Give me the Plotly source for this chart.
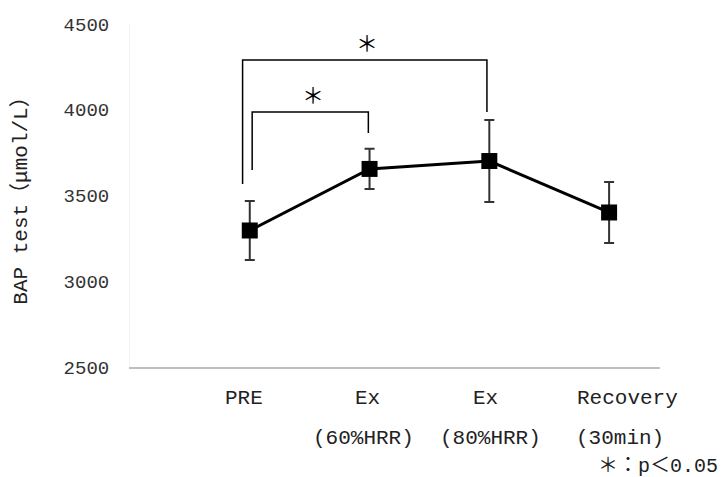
import plotly.graph_objects as go

# ---- data ----
categories = ["PRE", "Ex", "Ex", "Recovery"]
sub_labels = ["", "(60%HRR)", "(80%HRR)", "(30min)"]
means = [3296, 3655, 3701, 3401]
sds = [172, 117, 239, 178]
y_ticks = [2500, 3000, 3500, 4000, 4500]
y_title = "BAP test（μmol/L）"
footnote = "＊：p＜0.05"
# significance brackets: (left x, right x, left bottom y, top y, right bottom y, label)
brackets = [
    (-0.06, 1.98, 3567, 4290, 3987, "＊"),
    (0.02, 0.99, 3649, 3987, 3864, "＊"),
]

# label layout tweaks (pixels)
label_dx = [-6, -2, -4, 18]
sub_dx = [0, -6, 1, 11]

FONT = "Liberation Mono, Noto Sans CJK JP, monospace"
xs = list(range(len(categories)))

fig = go.Figure()
fig.add_trace(go.Scatter(
    x=xs, y=means,
    mode="lines+markers",
    line=dict(color="black", width=3),
    marker=dict(symbol="square", size=16, color="black"),
    error_y=dict(type="data", array=sds, visible=True, color="#333333", thickness=2, width=5),
    showlegend=False,
))

for x0, x1, yl, yt, yr, lab in brackets:
    fig.add_shape(type="path", xref="x", yref="y",
                  path=f"M {x0} {yl} L {x0} {yt} L {x1} {yt} L {x1} {yr}",
                  line=dict(color="black", width=1.5))
    fig.add_annotation(x=(x0 + x1) / 2 + 0.02, y=yt, xref="x", yref="y",
                       text=lab, showarrow=False, yanchor="bottom", yshift=0,
                       font=dict(family=FONT, size=22, color="black"))

for x, c, s, dx, sdx in zip(xs, categories, sub_labels, label_dx, sub_dx):
    fig.add_annotation(x=x, y=-0.093, xref="x", yref="paper", text=c,
                       showarrow=False, yanchor="middle", xshift=dx,
                       font=dict(family=FONT, size=21, color="#222"))
    if s:
        fig.add_annotation(x=x, y=-0.207, xref="x", yref="paper", text=s,
                           showarrow=False, yanchor="middle", xshift=sdx,
                           font=dict(family=FONT, size=21, color="#222"))

fig.add_annotation(x=1.113, y=-0.29, xref="paper", yref="paper", text=footnote,
                   showarrow=False, xanchor="right", yanchor="middle",
                   font=dict(family=FONT, size=20, color="#222"))

fig.update_layout(
    width=726, height=477,
    margin=dict(l=130, r=66, t=24, b=110),
    paper_bgcolor="white", plot_bgcolor="white",
    font=dict(family=FONT, color="#222"),
)
fig.update_xaxes(
    range=[-1.0, 3.425], tickmode="array", tickvals=xs, ticktext=[""] * len(xs),
    showgrid=False, zeroline=False, showline=True, linecolor="#bfbfbf", linewidth=1.5,
    ticks="", automargin=False,
)
fig.update_yaxes(
    range=[2500, 4500], tickmode="array", tickvals=y_ticks,
    showgrid=False, zeroline=False, showline=True, linecolor="#f2f2f2", linewidth=1,
    ticks="", tickfont=dict(family=FONT, size=19, color="#333"),
    ticklabelstandoff=16, automargin=False,
    title=dict(text=y_title, font=dict(family=FONT, size=21, color="#222"), standoff=30),
)

fig.write_html("out.html", config={"displayModeBar": False},
               post_script="document.body.style.margin='0';document.body.style.padding='0';")
